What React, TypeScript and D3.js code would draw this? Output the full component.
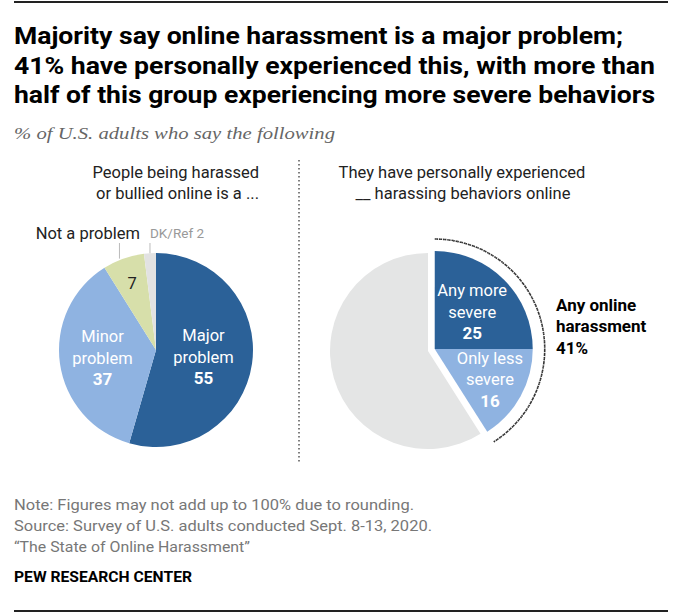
import * as d3 from 'd3'

const W = 678
const H = 615

// left pie: how big a problem online harassment is
const problemLabels = ['Major problem', 'Minor problem', 'Not a problem', 'DK/Ref']
const problemValues = [55, 37, 7, 2]
const problemColors = ['#2b6198', '#8fb3e1', '#d7dfaa', '#e2e2e2']

// right pie: personally experienced harassment
const experLabels = ['Any more severe', 'Only less severe', 'None']
const experValues = [25, 16, 59]
const experColors = ['#2b6198', '#8fb3e1', '#e4e5e5']

const titleLines = [
  'Majority say online harassment is a major problem;',
  '41% have personally experienced this, with more than',
  'half of this group experiencing more severe behaviors',
]
const titleWidths = [609, 641, 641]

const noteLines = [
  'Note: Figures may not add up to 100% due to rounding.',
  'Source: Survey of U.S. adults conducted Sept. 8-13, 2020.',
  '\u201CThe State of Online Harassment\u201D',
]
const noteWidths = [400, 418, 236]

const FONT = 'Roboto, "Noto Sans", sans-serif'
const FS = 16.5

const LEFT = { cx: 156, cy: 350, r: 97 }
const RIGHT = { cx: 428, cy: 351, r: 98 }
const EXPLODE = 7

function polar(cx: number, cy: number, r: number, a: number): [number, number] {
  return [cx + r * Math.sin(a), cy - r * Math.cos(a)]
}

function LabelBlock({ x, y, lines, num, color }: { x: number; y: number; lines: string[]; num: string; color: string }) {
  const all = [...lines, num]
  const step = 21.5
  const top = y - ((all.length - 1) * step) / 2
  return (
    <g fill={color} fontFamily={FONT} fontSize={FS} textAnchor="middle">
      {all.map((t, i) => (
        <text
          key={i}
          x={x}
          y={top + i * step + 6}
          fontWeight={i === all.length - 1 ? 700 : 400}
          fontSize={i === all.length - 1 ? 17 : FS}
        >
          {t}
        </text>
      ))}
    </g>
  )
}

export default function App() {
  const pie = d3.pie<number>().sort(null).value((d) => d)

  const leftArcs = pie(problemValues)
  const leftArc = d3.arc<d3.PieArcDatum<number>>().innerRadius(0).outerRadius(LEFT.r)

  const rightArcs = pie(experValues)
  const rightArc = d3.arc<d3.PieArcDatum<number>>().innerRadius(0).outerRadius(RIGHT.r)

  // colored wedges pulled out along the mid angle of the 41% group
  const groupEnd = rightArcs[1].endAngle
  const groupMid = groupEnd / 2
  const [ox, oy] = polar(RIGHT.cx, RIGHT.cy, EXPLODE, groupMid)

  const dotted = d3.arc()({ innerRadius: 110, outerRadius: 110, startAngle: 0, endAngle: groupEnd }) as string

  const mid = (a: d3.PieArcDatum<number>) => (a.startAngle + a.endAngle) / 2

  const majorPos = polar(LEFT.cx, LEFT.cy, 48, mid(leftArcs[0]))
  const minorPos = polar(LEFT.cx, LEFT.cy, 54, mid(leftArcs[1]))
  const notPos = polar(LEFT.cx, LEFT.cy, 71, mid(leftArcs[2]))
  const notEdge = polar(LEFT.cx, LEFT.cy, LEFT.r, mid(leftArcs[2]))
  const dkEdge = polar(LEFT.cx, LEFT.cy, LEFT.r, mid(leftArcs[3]))

  const severePos = polar(ox, oy, 53, mid(rightArcs[0]))
  const lessPos = polar(ox, oy, 63, mid(rightArcs[1]))

  return (
    <div style={{ position: 'absolute', left: 0, top: 0, background: '#fff' }}>
      <svg width={W} height={H} style={{ display: 'block' }}>
        <rect width={W} height={H} fill="#fff" />
        <line x1={14} x2={668} y1={2} y2={2} stroke="#222" strokeWidth={2} />

        {titleLines.map((t, i) => (
          <text
            key={i}
            x={14}
            y={44 + i * 29.5}
            fontFamily={FONT}
            fontWeight={700}
            fontSize={24}
            fill="#000"
            textLength={titleWidths[i]}
            lengthAdjust="spacingAndGlyphs"
          >
            {t}
          </text>
        ))}
        <text
          x={14}
          y={139}
          fontFamily='"Liberation Serif", "DejaVu Serif", serif'
          fontStyle="italic"
          fontSize={17}
          fill="#666"
          textLength={321}
          lengthAdjust="spacingAndGlyphs"
        >
          % of U.S. adults who say the following
        </text>

        {/* left subtitle */}
        <g fontFamily={FONT} fontSize={FS} fill="#222" textAnchor="end">
          <text x={259} y={178}>People being harassed</text>
          <text x={259} y={199}>or bullied online is a ...</text>
        </g>

        {/* right subtitle */}
        <g fontFamily={FONT} fontSize={FS} fill="#222" textAnchor="middle">
          <text x={462} y={178}>They have personally experienced</text>
          <text x={463} y={199}>__ harassing behaviors online</text>
        </g>

        {/* divider */}
        <line x1={299} x2={299} y1={160} y2={464} stroke="#555" strokeWidth={1.5} strokeDasharray="1.5 2.5" />

        {/* left pie */}
        <g transform={`translate(${LEFT.cx},${LEFT.cy})`}>
          {leftArcs.map((a, i) => (
            <path key={i} d={leftArc(a) as string} fill={problemColors[i]} />
          ))}
        </g>
        <LabelBlock x={majorPos[0]} y={majorPos[1]} lines={['Major', 'problem']} num={String(problemValues[0])} color="#fff" />
        <LabelBlock x={minorPos[0]} y={minorPos[1]} lines={['Minor', 'problem']} num={String(problemValues[1])} color="#fff" />
        <text x={notPos[0]} y={notPos[1] + 6} textAnchor="middle" fontFamily={FONT} fontSize={FS} fill="#222">
          {problemValues[2]}
        </text>
        <line x1={notEdge[0] - 4} x2={notEdge[0] - 4} y1={243} y2={notEdge[1]} stroke="#bbb" strokeWidth={1} />
        <line x1={dkEdge[0]} x2={dkEdge[0]} y1={243} y2={dkEdge[1]} stroke="#bbb" strokeWidth={1} />
        <text x={140} y={239} textAnchor="end" fontFamily={FONT} fontSize={FS} fill="#222">
          {problemLabels[2]}
        </text>
        <text x={150} y={238} fontFamily={FONT} fontSize={13.5} fill="#999">
          {problemLabels[3]} {problemValues[3]}
        </text>

        {/* right pie */}
        <g transform={`translate(${RIGHT.cx},${RIGHT.cy})`}>
          <path d={rightArc(rightArcs[2]) as string} fill={experColors[2]} />
        </g>
        <g transform={`translate(${ox},${oy})`}>
          {rightArcs.slice(0, 2).map((a, i) => (
            <path key={i} d={rightArc(a) as string} fill={experColors[i]} />
          ))}
          <path d={dotted} fill="none" stroke="#333" strokeWidth={1.6} strokeDasharray="1.6 2.6" />
        </g>
        <LabelBlock x={severePos[0]} y={severePos[1]} lines={['Any more', 'severe']} num={String(experValues[0])} color="#fff" />
        <LabelBlock x={lessPos[0]} y={lessPos[1]} lines={['Only less', 'severe']} num={String(experValues[1])} color="#fff" />

        <g fontFamily={FONT} fontSize={17} fontWeight={700} fill="#000">
          <text x={556} y={311}>Any online</text>
          <text x={556} y={332}>harassment</text>
          <text x={556} y={354}>{experValues[0] + experValues[1]}%</text>
        </g>

        {/* footer */}
        {noteLines.map((t, i) => (
          <text
            key={i}
            x={14}
            y={510 + i * 21}
            fontFamily={FONT}
            fontSize={14.5}
            fill="#777"
            textLength={noteWidths[i]}
            lengthAdjust="spacingAndGlyphs"
          >
            {t}
          </text>
        ))}
        <text x={14} y={582} fontFamily={FONT} fontSize={14.5} fontWeight={700} fill="#000" textLength={178} lengthAdjust="spacingAndGlyphs">
          PEW RESEARCH CENTER
        </text>
        <line x1={14} x2={668} y1={611} y2={611} stroke="#222" strokeWidth={2} />
      </svg>
    </div>
  )
}
